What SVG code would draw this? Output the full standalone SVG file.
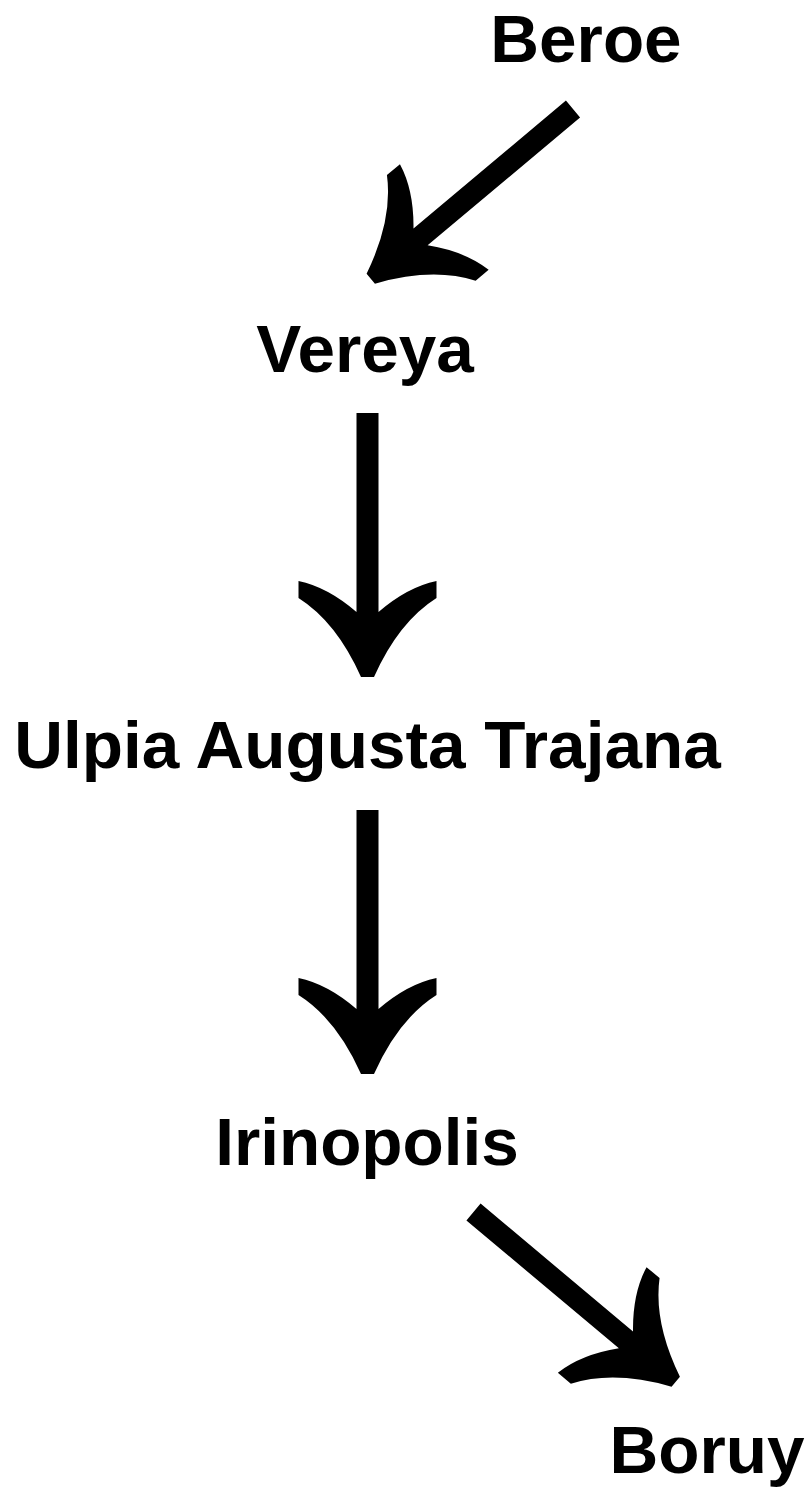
<svg xmlns="http://www.w3.org/2000/svg" xmlns:xlink="http://www.w3.org/1999/xlink" width="810" height="1487" viewBox="0 0 810 1487">
<style>
.lbl{font-family:"Liberation Sans",Arial,Helvetica,sans-serif;font-weight:bold;font-size:67.5px;fill:#000;text-anchor:middle}
.arr{fill:#000}
</style>
<defs>
<path id="arrow" d="M -11,0 L 11,0 L 11,199 Q 40,174 69,168 L 69,185 Q 31,209 6.5,264 L -6.5,264 Q -31,209 -69,185 L -69,168 Q -40,174 -11,199 Z"/>
</defs>
<rect width="810" height="1487" fill="#fff"/>
<g id="connectors" class="arr">
<use xlink:href="#arrow" href="#arrow" transform="translate(573,109) rotate(50)"/>
<use xlink:href="#arrow" href="#arrow" transform="translate(367.5,413)"/>
<use xlink:href="#arrow" href="#arrow" transform="translate(367.5,810)"/>
<use xlink:href="#arrow" href="#arrow" transform="translate(473.5,1212) rotate(-50)"/>
</g>
<g id="beroe"><text class="lbl" x="586" y="62">Beroe</text></g>
<g id="vereya"><text class="lbl" x="365" y="372">Vereya</text></g>
<g id="ulpia"><text class="lbl" x="367.5" y="768">Ulpia Augusta Trajana</text></g>
<g id="irinopolis"><text class="lbl" x="367" y="1165">Irinopolis</text></g>
<g id="boruy"><text class="lbl" x="707" y="1473">Boruy</text></g>
</svg>
